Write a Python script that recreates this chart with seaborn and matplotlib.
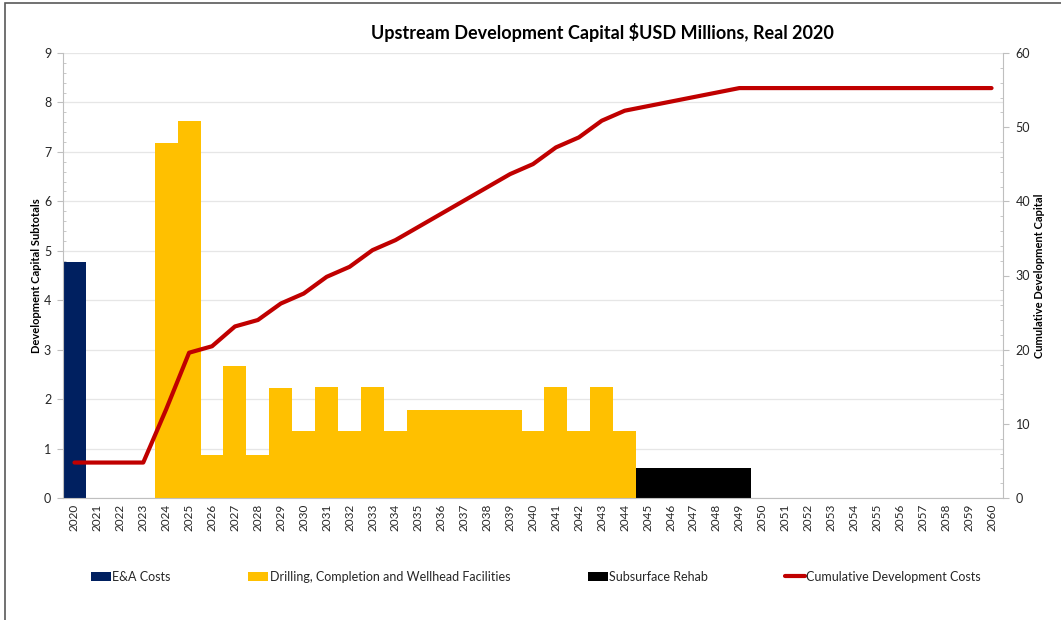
import numpy as np
import pandas as pd
import matplotlib
matplotlib.use("Agg")
import matplotlib.pyplot as plt
from matplotlib.ticker import MultipleLocator, FixedLocator
from matplotlib.patches import Patch, Rectangle
from matplotlib.lines import Line2D
import seaborn as sns

# ---------------- data ----------------
years = [str(y) for y in range(2020, 2061)]

ea_years = ["2020"]
ea_values = [4.78]

drill_years = [str(y) for y in range(2024, 2045)]
drill_values = [7.18, 7.63, 0.87, 2.67, 0.87, 2.22, 1.35, 2.25, 1.35, 2.25, 1.35,
                1.78, 1.78, 1.78, 1.78, 1.78, 1.35, 2.25, 1.35, 2.25, 1.35]

rehab_years = ["2045", "2046", "2047", "2048", "2049"]
rehab_values = [0.61, 0.61, 0.61, 0.61, 0.61]

cumulative = [4.78, 4.78, 4.78, 4.78, 11.96, 19.59, 20.46, 23.13, 24.00, 26.22,
              27.57, 29.82, 31.17, 33.42, 34.77, 36.55, 38.33, 40.11, 41.89, 43.67,
              45.02, 47.27, 48.62, 50.87, 52.22, 52.83, 53.44, 54.05, 54.66, 55.27,
              55.27, 55.27, 55.27, 55.27, 55.27, 55.27, 55.27, 55.27, 55.27, 55.27, 55.27]

series_names = ["E&A Costs", "Drilling, Completion and Wellhead Facilities",
                "Subsurface Rehab", "Cumulative Development Costs"]
title = "Upstream Development Capital $USD Millions, Real 2020"
left_label = "Development Capital Subtotals"
right_label = "Cumulative Development Capital"

# ---------------- style ----------------
sns.set_theme(style="white")
plt.rcParams["font.family"] = ["Lato", "DejaVu Sans"]

C_EA = "#002060"
C_DRILL = "#FFC000"
C_REHAB = "#000000"
C_LINE = "#C00000"
AX_GRAY = "#BFBFBF"
TXT = "#262626"

fig = plt.figure(figsize=(10.61, 6.2), dpi=100)
ax = fig.add_axes([63 / 1061, 1 - 498 / 620, 940 / 1061, 445 / 620])

df_ea = pd.DataFrame({"year": ea_years, "value": ea_values})
df_dr = pd.DataFrame({"year": drill_years, "value": drill_values})
df_rh = pd.DataFrame({"year": rehab_years, "value": rehab_values})

sns.barplot(data=df_ea, x="year", y="value", order=years, color=C_EA, width=1.0,
            saturation=1, edgecolor="none", linewidth=0, ax=ax, errorbar=None)
sns.barplot(data=df_dr, x="year", y="value", order=years, color=C_DRILL, width=1.0,
            saturation=1, edgecolor="none", linewidth=0, ax=ax, errorbar=None)
sns.barplot(data=df_rh, x="year", y="value", order=years, color=C_REHAB, width=1.0,
            saturation=1, edgecolor="none", linewidth=0, ax=ax, errorbar=None)

ax.set_xlim(-0.5, len(years) - 0.5)
ax.set_ylim(0, 9)
ax.yaxis.set_major_locator(MultipleLocator(1))
ax.yaxis.set_minor_locator(MultipleLocator(0.2))
ax.grid(axis="y", which="major", color="#E6E6E6", linewidth=0.9)
ax.set_axisbelow(True)

ax.xaxis.set_major_locator(FixedLocator(np.arange(len(years))))
ax.set_xticklabels(years, rotation=90, fontsize=8.5, color=TXT)
ax.xaxis.set_minor_locator(FixedLocator(np.arange(len(years) + 1) - 0.5))
ax.tick_params(axis="x", which="major", length=0, pad=4)
ax.tick_params(axis="x", which="minor", length=4, direction="out", color=AX_GRAY, width=0.8)
ax.tick_params(axis="y", which="major", length=4, direction="out", color=AX_GRAY,
               width=0.8, labelsize=9, labelcolor=TXT, pad=4.5, left=True)
ax.tick_params(axis="y", which="minor", length=2.5, direction="in", color=AX_GRAY,
               width=0.6, left=True)
ax.set_xlabel("")
ax.set_ylabel(left_label, fontsize=8, fontweight="bold", color="black")
ax.yaxis.set_label_coords(-21 / 940, 0.5)

for s in ["top", "right"]:
    ax.spines[s].set_visible(False)
for s in ["left", "bottom"]:
    ax.spines[s].set_color(AX_GRAY)
    ax.spines[s].set_linewidth(0.8)

# secondary axis for cumulative line
ax2 = ax.twinx()
xpos = np.arange(len(years))
sns.lineplot(x=xpos, y=cumulative, color=C_LINE, linewidth=3, ax=ax2)
ax2.set_ylim(0, 60)
ax2.set_xlim(-0.5, len(years) - 0.5)
ax2.yaxis.set_major_locator(MultipleLocator(10))
ax2.yaxis.set_minor_locator(MultipleLocator(2))
ax2.tick_params(axis="y", which="major", length=4, direction="out", color=AX_GRAY,
                width=0.8, labelsize=9, labelcolor=TXT, pad=5, right=True)
ax2.tick_params(axis="y", which="minor", length=2.5, direction="in", color=AX_GRAY,
                width=0.6, right=True)
ax2.set_ylabel(right_label, fontsize=8, fontweight="bold", color="black", rotation=90)
ax2.yaxis.set_label_coords(1 + 31 / 940, 0.5)
ax2.grid(False)
for s in ["top", "left", "bottom"]:
    ax2.spines[s].set_visible(False)
ax2.spines["right"].set_color(AX_GRAY)
ax2.spines["right"].set_linewidth(0.8)

# title
fig.text(602 / 1061, 1 - 33 / 620, title, ha="center", va="center",
         fontsize=13, fontweight="bold", color="black")

# legend
handles = [Patch(facecolor=C_EA, edgecolor="none"),
           Patch(facecolor=C_DRILL, edgecolor="none"),
           Patch(facecolor=C_REHAB, edgecolor="none"),
           Line2D([0], [0], color=C_LINE, linewidth=3)]
leg = fig.legend(handles, series_names, loc="center left",
                 bbox_to_anchor=(85 / 1061, 1 - 577 / 620), ncol=4, frameon=False,
                 fontsize=9, handlelength=1.6, handleheight=0.8, handletextpad=0.1,
                 columnspacing=6.2, borderpad=0)
for t in leg.get_texts():
    t.set_color(TXT)

# figure border
fig.patches.append(Rectangle((5 / 1061, -0.05), 1.1, 1.05 - 3 / 620, transform=fig.transFigure,
                             fill=False, edgecolor="#595959", linewidth=1.2))

fig.savefig("out.png", dpi=100)
